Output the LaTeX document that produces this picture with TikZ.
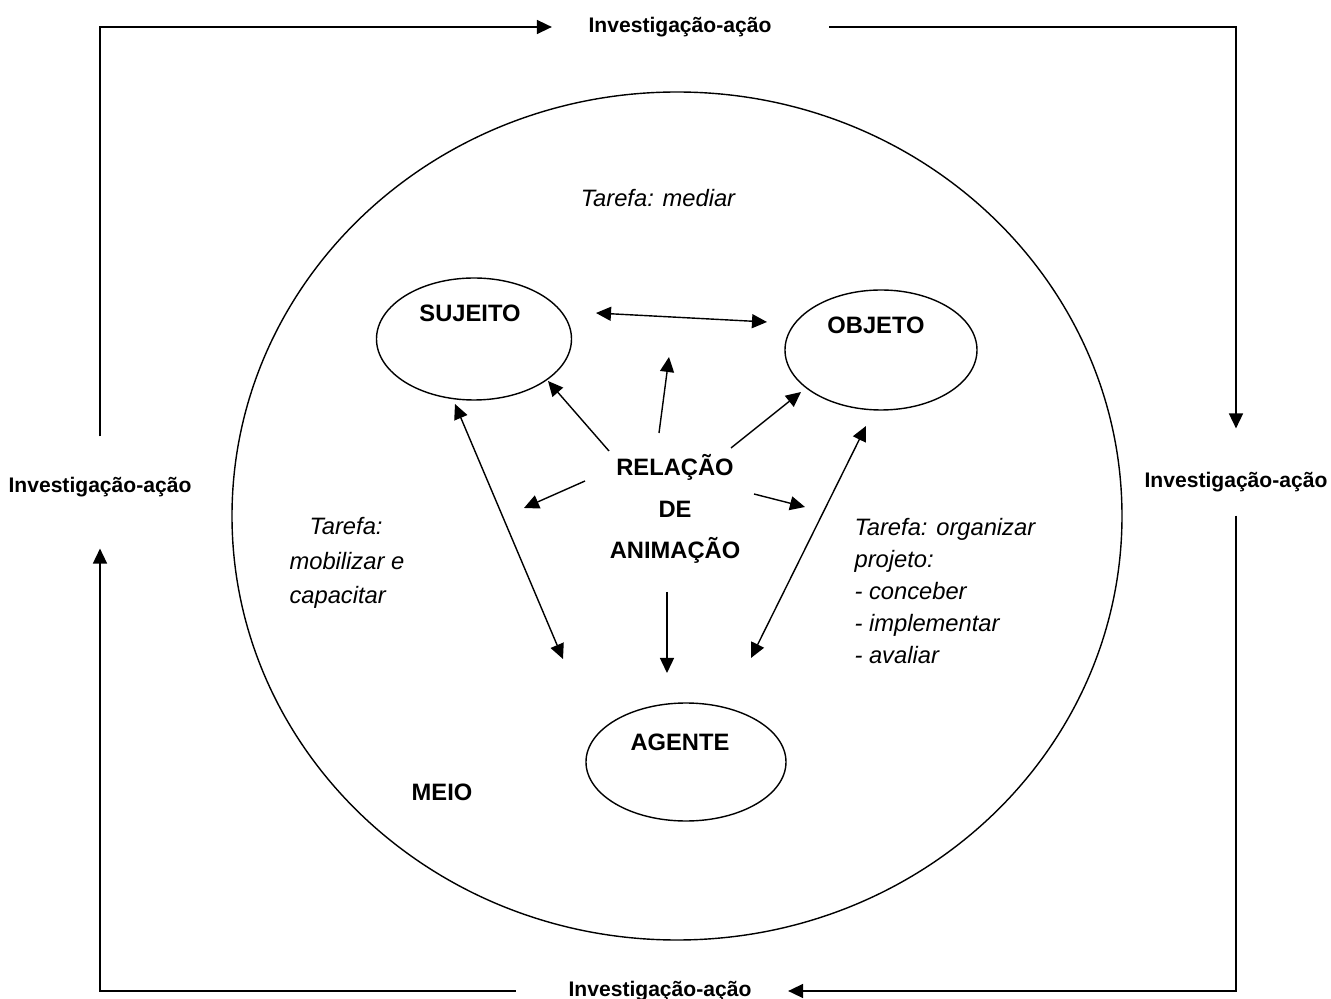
\documentclass[tikz,border=0pt]{standalone}
\usepackage{fontspec}
\setmainfont{Liberation Sans}
\usetikzlibrary{positioning,calc,arrows.meta,shapes.geometric}

\begin{document}
\begin{tikzpicture}[
    line width=0.8pt,
    >={Triangle[length=0.3cm,width=0.28cm]},
    bubble/.style={draw,ellipse,minimum width=3.9cm,minimum height=2.44cm},
    tag/.style={font=\bfseries\fontsize{13.5}{16}\selectfont},
    tarefa/.style={font=\itshape\fontsize{13.5}{19.6}\selectfont,align=left},
    cyc/.style={font=\bfseries\fontsize{12}{14}\selectfont,inner sep=0pt},
]
    \useasboundingbox (-13.54,10.32) rectangle (13.08,-9.66);

    \coordinate (c0) at (0,0);
    \draw (c0) ellipse [x radius=8.9cm,y radius=8.48cm];

    \node[bubble] (s1) at (-4.06,3.54) {};
    \node[bubble,minimum width=3.84cm,minimum height=2.4cm] (o1) at (4.08,3.32) {};
    \node[bubble,minimum width=4cm,minimum height=2.36cm] (a1) at (0.18,-4.92) {};

    \node[tag] (s2) at ($(s1)+(-0.08,0.52)$) {SUJEITO};
    \node[tag] (o2) at ($(o1)+(-0.1,0.5)$) {OBJETO};
    \node[tag] (a2) at ($(a1)+(-0.12,0.4)$) {AGENTE};
    \node[tag,align=center,font=\bfseries\fontsize{13.5}{23.6}\selectfont] (r1) at (-0.04,0.14) {RELAÇÃO\\DE\\ANIMAÇÃO};
    \node[tag] (m1) at (-4.7,-5.52) {MEIO};

    \node[tarefa] (t1) at (-0.38,6.36) {Tarefa: mediar};
    \node[tarefa,anchor=west] (t2) at (-7.88,-0.94) {\hspace*{0.4cm}Tarefa:\\mobilizar e\\capacitar};
    \node[tarefa,anchor=west,font=\itshape\fontsize{13.5}{18.3}\selectfont] (t3) at (3.42,-1.5) {Tarefa: organizar\\projeto:\\- conceber\\- implementar\\- avaliar};

    \node[cyc] (n1) at (0.06,9.78) {Investigação-ação};
    \node[cyc] (n2) at (11.18,0.68) {Investigação-ação};
    \node[cyc] (n3) at (-0.34,-9.5) {Investigação-ação};
    \node[cyc] (n4) at (-11.54,0.58) {Investigação-ação};

    \coordinate (d1) at (-1.62,4.06);
    \coordinate (d2) at (1.80,3.88);
    \coordinate (e1) at (-0.36,1.66);
    \coordinate (e2) at (-0.16,3.18);
    \coordinate (f1) at (-1.36,1.30);
    \coordinate (f2) at (-2.58,2.70);
    \coordinate (g1) at (1.08,1.36);
    \coordinate (g2) at (2.48,2.48);
    \coordinate (h1) at (-1.84,0.70);
    \coordinate (h2) at (-3.06,0.16);
    \coordinate (i1) at (1.54,0.44);
    \coordinate (i2) at (2.56,0.18);
    \coordinate (j1) at (-0.20,-1.52);
    \coordinate (j2) at (-0.20,-3.14);
    \coordinate (k1) at (-4.44,2.24);
    \coordinate (k2) at (-2.28,-2.86);
    \coordinate (l1) at (3.78,1.80);
    \coordinate (l2) at (1.48,-2.84);

    \draw[<->] (d1) -- (d2);
    \draw[<->] (k1) -- (k2);
    \draw[<->] (l1) -- (l2);
    \draw[->] (e1) -- (e2);
    \draw[->] (f1) -- (f2);
    \draw[->] (g1) -- (g2);
    \draw[->] (h1) -- (h2);
    \draw[->] (i1) -- (i2);
    \draw[->] (j1) -- (j2);

    \draw[->,line width=0.9pt,shorten <=0.8cm,shorten >=0.72cm] (n4) |- (n1);
    \draw[->,line width=0.9pt,shorten <=1.14cm,shorten >=0.86cm] (n1) -| (n2);
    \draw[->,line width=0.9pt,shorten <=0.46cm,shorten >=0.72cm] (n2) |- (n3);
    \draw[->,line width=0.9pt,shorten <=1.04cm,shorten >=1.02cm] (n3) -| (n4);
\end{tikzpicture}
\end{document}
